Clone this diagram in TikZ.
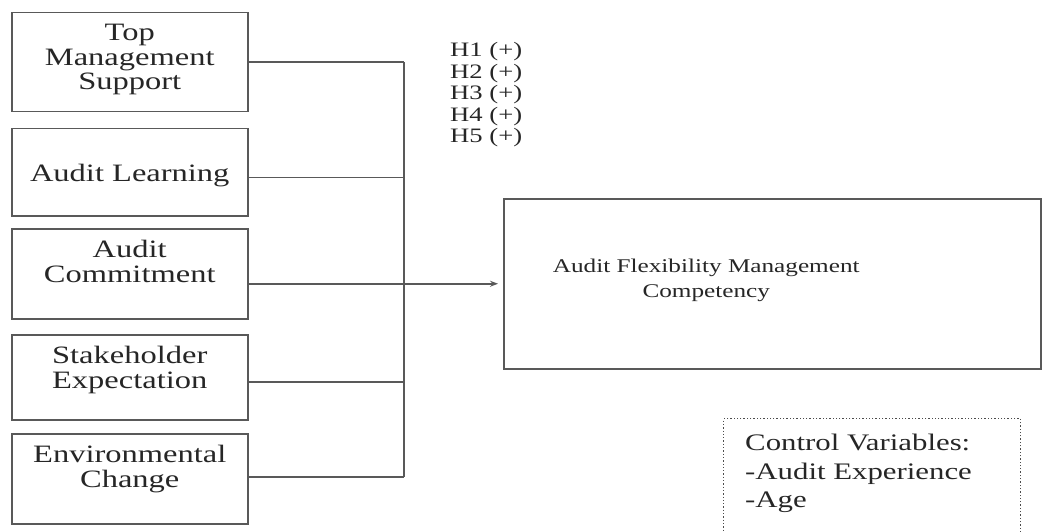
\documentclass[tikz,border=0pt]{standalone}
\usepackage{fontspec}
\setmainfont{Liberation Serif}[FakeStretch=1.3]
\usepackage{tikz}
\usetikzlibrary{arrows.meta}

\begin{document}
\begin{tikzpicture}[
        x=1pt, y=-1pt,
        factor/.style={
            % The shape:
            rectangle,
            % The size:
            minimum width=236pt,
            inner sep=0pt,
            % The border
            line width=1.5pt,
            draw=black!65,
            % The filling
            fill=white
        },
        factortext/.style={
            font=\fontsize{25}{24.5}\selectfont,
            text=black!85,
            align=center,
            inner sep=0pt,
            anchor=north
        },
        outcometext/.style={
            font=\fontsize{19.4}{25}\selectfont,
            text=black!85,
            align=center,
            inner sep=0pt
        },
        control/.style={
            rectangle,
            inner sep=0pt,
            line width=1.3pt,
            dotted,
            draw=black!70
        },
        controltext/.style={
            font=\fontsize{23.7}{28.5}\selectfont,
            text=black!85,
            align=left,
            inner sep=0pt,
            anchor=north west
        },
        hyp/.style={
            font=\fontsize{20.5}{21}\selectfont,
            text=black!85,
            inner sep=0pt,
            anchor=west
        },
        link/.style={
            line width=1.5pt,
            draw=black!65
        }]

        \useasboundingbox (0,0) rectangle (1042,532);

        % the five factors on the left
        \foreach \name/\ytop/\hgt/\off/\txt in {
            tms/12/99/12/{Top\\Management\\Support},
            al/128/87/36/{Audit Learning},
            ac/228/90/12/{Audit\\Commitment},
            se/334/85/12/{Stakeholder\\Expectation},
            ec/433/90/12/{Environmental\\Change}}
        {
            \node [factor, minimum height=\hgt pt, anchor=north west] (\name) at (11,\ytop) {};
            \node [factortext] (\name-text) at ([yshift=-\off pt]\name.north) {\txt};
        }

        % the outcome
        \node [factor, minimum width=537pt, minimum height=170pt, anchor=north west] (afmc) at (503,198) {};
        \node [outcometext] (afmc-text) at ([xshift=-66pt, yshift=3.5pt]afmc.center) {Audit Flexibility Management\\Competency};

        % control variables
        \node [control, minimum width=297pt, minimum height=130pt, anchor=north west] (ctrl) at (723,418) {};
        \node [controltext] (ctrl-text) at ([xshift=22pt, yshift=-16pt]ctrl.north west) {Control Variables:\\-Audit Experience\\-Age};

        % hypotheses
        \foreach \i/\y in {1/52, 2/73.5, 3/95, 4/116.5, 5/138}
        {
            \node [hyp] (h\i) at (450,\y) {H\i{} (+)};
        }

        % collecting line
        \coordinate (bus) at (404,0);
        \foreach \name/\dy in {tms/0, al/-5.5, se/-4.5, ec/2}
        {
            \draw [link] ([yshift=\dy pt]\name.east) -- ([yshift=\dy pt]\name.east -| bus);
        }
        \draw [link] (tms.east -| bus) -- ([yshift=2pt]ec.east -| bus);
        \draw [link, -{Stealth[length=8pt, width=6pt]}, shorten >=5pt] ([yshift=-10pt]ac.east) -- ([yshift=-10pt]ac.east -| afmc.west);

    \end{tikzpicture}
\end{document}
